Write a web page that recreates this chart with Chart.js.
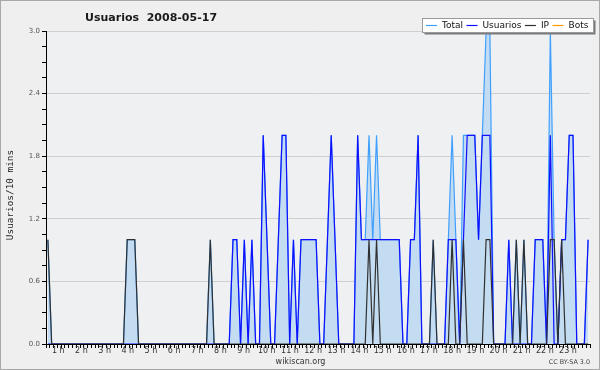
<!DOCTYPE html>
<html>
<head>
<meta charset="utf-8">
<script src="https://cdn.jsdelivr.net/npm/chart.js@4.4.1/dist/chart.umd.min.js"></script>
<style>
  html, body { margin: 0; padding: 0; background: #efefef; }
  #wrap { width: 600px; height: 370px; }
</style>
</head>
<body>
<div id="wrap"><canvas id="c" width="600" height="370"></canvas></div>
<script>
// ---- data (10-minute slots, 144 per day) ----
const titleText = 'Usuarios  2008-05-17';
const yAxisTitle = 'Usuarios/10 mins';
const hourLabels = ['1 h','2 h','3 h','4 h','5 h','6 h','7 h','8 h','9 h','10 h','11 h','12 h',
                    '13 h','14 h','15 h','16 h','17 h','18 h','19 h','20 h','21 h','22 h','23 h'];
const yLabels = ['0.0','0.6','1.2','1.8','2.4','3.0'];
const seriesNames = ['Total','Usuarios','IP','Bots'];

const totalVals = [
  1,0,0,0,0,0,0,0,0,0,0,0,
  0,0,0,0,0,0,0,0,0,1,1,1,
  0,0,0,0,0,0,0,0,0,0,0,0,
  0,0,0,0,0,0,0,1,0,0,0,0,
  0,1,1,0,1,0,1,0,0,2,1,0,
  0,1,2,2,0,1,0,1,1,1,1,1,
  0,0,1,2,1,0,0,0,0,0,2,1,
  1,2,1,2,1,1,1,1,1,1,0,0,
  1,1,2,0,0,0,1,0,0,0,1,2,
  1,0,2,2,2,2,1,2,3,3,0,0,
  0,0,1,0,1,0,1,0,0,1,1,1,
  0,3,1,0,1,1,2,2,0,0,0,1
];
const usuariosVals = [
  0,0,0,0,0,0,0,0,0,0,0,0,
  0,0,0,0,0,0,0,0,0,0,0,0,
  0,0,0,0,0,0,0,0,0,0,0,0,
  0,0,0,0,0,0,0,0,0,0,0,0,
  0,1,1,0,1,0,1,0,0,2,1,0,
  0,1,2,2,0,1,0,1,1,1,1,1,
  0,0,1,2,1,0,0,0,0,0,2,1,
  1,1,1,1,1,1,1,1,1,1,0,0,
  1,1,2,0,0,0,0,0,0,0,1,1,
  1,0,1,2,2,2,1,2,2,2,0,0,
  0,0,1,0,0,0,0,0,0,1,1,1,
  0,2,0,0,1,1,2,2,0,0,0,1
];
const ipVals = [
  1,0,0,0,0,0,0,0,0,0,0,0,
  0,0,0,0,0,0,0,0,0,1,1,1,
  0,0,0,0,0,0,0,0,0,0,0,0,
  0,0,0,0,0,0,0,1,0,0,0,0,
  0,0,0,0,0,0,0,0,0,0,0,0,
  0,0,0,0,0,0,0,0,0,0,0,0,
  0,0,0,0,0,0,0,0,0,0,0,0,
  0,1,0,1,0,0,0,0,0,0,0,0,
  0,0,0,0,0,0,1,0,0,0,0,1,
  0,0,1,0,0,0,0,0,1,1,0,0,
  0,0,0,0,1,0,1,0,0,0,0,0,
  0,1,1,0,1,0,0,0,0,0,0,0
];
const botsVals = [
  0,0,0,0,0,0,0,0,0,0,0,0,
  0,0,0,0,0,0,0,0,0,0,0,0,
  0,0,0,0,0,0,0,0,0,0,0,0,
  0,0,0,0,0,0,0,0,0,0,0,0,
  0,0,0,0,0,0,0,0,0,0,0,0,
  0,0,0,0,0,0,0,0,0,0,0,0,
  0,0,0,0,0,0,0,0,0,0,0,0,
  0,0,0,0,0,0,0,0,0,0,0,0,
  0,0,0,0,0,0,0,0,0,0,0,0,
  0,0,0,0,0,0,0,0,0,0,0,0,
  0,0,0,0,0,0,0,0,0,0,0,0,
  0,0,0,0,0,0,0,0,0,0,0,0
];

// ---- styles ----
const colTotal = '#3f9fff', colUsu = '#1010ff', colIP = '#303030', colBots = '#ff9a00';
const fillTotal = '#c4dcf1';
const toPts = arr => arr.map((v, i) => ({ x: i, y: v }));

const bgPlugin = {
  id: 'bg',
  beforeDraw(chart) {
    const { ctx, chartArea: a } = chart;
    ctx.save();
    ctx.fillStyle = '#efefef';
    ctx.fillRect(0, 0, chart.width, chart.height);
    ctx.fillStyle = '#eef0f2';
    ctx.fillRect(a.left, a.top, a.right - a.left, a.bottom - a.top);
    ctx.strokeStyle = '#a8a8a8';
    ctx.lineWidth = 1;
    ctx.strokeRect(0.5, 0.5, chart.width - 1, chart.height - 1);
    ctx.restore();
  },
  afterDraw(chart) {
    const { ctx } = chart;
    ctx.save();
    // title
    ctx.fillStyle = '#1a1a1a';
    ctx.font = 'bold 11px "DejaVu Sans"';
    ctx.textAlign = 'left';
    ctx.textBaseline = 'alphabetic';
    ctx.fillText(titleText, 85, 20.5);
    // y axis title
    ctx.save();
    ctx.translate(10.5, 195);
    ctx.rotate(-Math.PI / 2);
    ctx.font = '9.4px "DejaVu Sans Mono"';
    ctx.textAlign = 'center';
    ctx.textBaseline = 'middle';
    ctx.fillStyle = '#222';
    ctx.fillText(yAxisTitle, 0, 0);
    ctx.restore();
    // footer texts
    ctx.font = '8px "DejaVu Sans"';
    ctx.fillStyle = '#333';
    ctx.textAlign = 'center';
    ctx.textBaseline = 'middle';
    ctx.fillText('wikiscan.org', 300.5, 361.5);
    ctx.font = '6.4px "DejaVu Sans"';
    ctx.fillStyle = '#444';
    ctx.textAlign = 'right';
    ctx.fillText('CC BY-SA 3.0', 590, 362.5);
    // legend
    const bx = 422.5, by = 18.5, bw = 171, bh = 14;
    ctx.fillStyle = '#7a7a7a';
    ctx.fillRect(bx + 2, by + 2, bw, bh);
    ctx.fillStyle = '#ffffff';
    ctx.fillRect(bx, by, bw, bh);
    ctx.strokeStyle = '#9a9a9a';
    ctx.lineWidth = 1;
    ctx.strokeRect(bx, by, bw, bh);
    ctx.font = '9px "DejaVu Sans"';
    ctx.textAlign = 'left';
    ctx.textBaseline = 'middle';
    let x = 426;
    const ly = 25.5;
    chart.data.datasets.forEach(ds => {
      ctx.strokeStyle = ds.borderColor;
      ctx.lineWidth = 1.2;
      ctx.beginPath();
      ctx.moveTo(x, ly);
      ctx.lineTo(x + 11, ly);
      ctx.stroke();
      x += 16;
      ctx.fillStyle = '#111';
      ctx.fillText(ds.label, x, ly);
      x += ctx.measureText(ds.label).width + 3.5;
    });
    ctx.restore();
  }
};

new Chart(document.getElementById('c'), {
  type: 'line',
  data: {
    datasets: [
      { label: seriesNames[0], data: toPts(totalVals), borderColor: colTotal, backgroundColor: fillTotal,
        fill: 'origin', borderWidth: 1.2, pointRadius: 0, tension: 0, order: 4 },
      { label: seriesNames[1], data: toPts(usuariosVals), borderColor: colUsu, backgroundColor: colUsu,
        fill: false, borderWidth: 1.2, pointRadius: 0, tension: 0, order: 3 },
      { label: seriesNames[2], data: toPts(ipVals), borderColor: colIP, backgroundColor: colIP,
        fill: false, borderWidth: 1.2, pointRadius: 0, tension: 0, order: 2 },
      { label: seriesNames[3], data: toPts(botsVals), borderColor: colBots, backgroundColor: colBots,
        fill: false, borderWidth: 1.2, pointRadius: 0, tension: 0, order: 5 }
    ]
  },
  options: {
    responsive: false,
    animation: false,
    events: [],
    layout: { padding: { top: 31, right: 10, bottom: 0, left: 0 } },
    plugins: { legend: { display: false }, tooltip: { enabled: false }, title: { display: false } },
    scales: {
      x: {
        type: 'linear', position: 'bottom', min: -0.5, max: 143.5, weight: 0, z: 1,
        afterBuildTicks(s) { const t = []; for (let k = 0; k <= 144; k++) t.push({ value: k - 0.5 }); s.ticks = t; },
        afterFit(s) { s.height = 2; },
        ticks: { display: false },
        grid: { drawOnChartArea: false, drawTicks: true, tickLength: 4, tickColor: '#000', tickWidth: 1 },
        border: { display: true, color: '#000', width: 1 }
      },
      x2: {
        type: 'linear', position: 'bottom', min: 0.47, max: 23.95, weight: 1,
        afterBuildTicks(s) { s.ticks = hourLabels.map((_, k) => ({ value: k + 1 })); },
        afterFit(s) { s.height = 24; },
        ticks: { autoSkip: false, maxRotation: 0, padding: 0, color: '#333',
                 font: { family: 'DejaVu Sans', size: 8 },
                 callback: (v, i) => hourLabels[i] },
        grid: { display: false, drawTicks: false },
        border: { display: false }
      },
      y: {
        type: 'linear', position: 'left', min: 0, max: 3,
        afterBuildTicks(s) { const t = []; for (let k = 0; k <= 20; k++) t.push({ value: k * 0.15 }); s.ticks = t; },
        afterFit(s) { s.width = 46; },
        ticks: { autoSkip: false, padding: 2, color: '#555',
                 font: { family: 'DejaVu Sans', size: 7 },
                 callback: (v, i) => (i % 4 === 0 ? yLabels[i / 4] : '') },
        grid: { drawTicks: true, tickLength: 4, tickColor: '#000',
                color: c => (c.index % 4 === 0 && c.index > 0 ? '#cfcfcf' : 'rgba(0,0,0,0)') },
        border: { display: true, color: '#000', width: 1 }
      }
    }
  },
  plugins: [bgPlugin]
});
</script>
</body>
</html>
